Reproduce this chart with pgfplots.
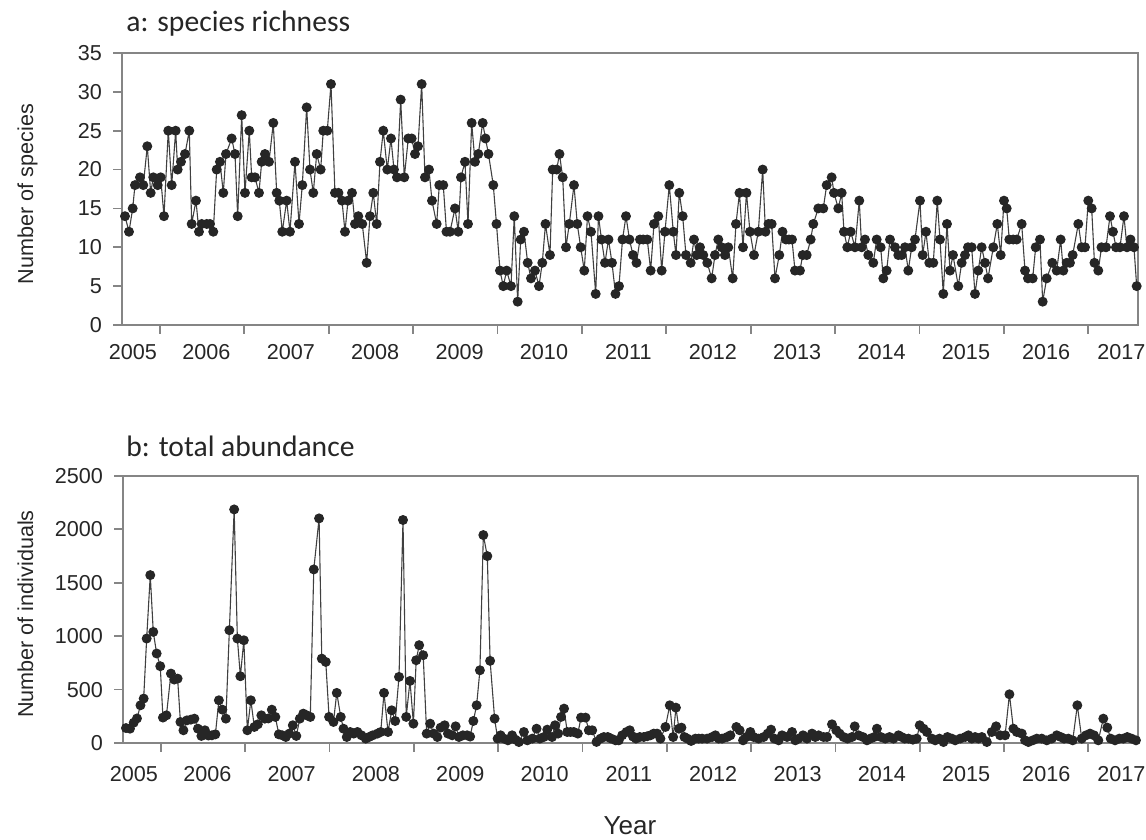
\documentclass[border=0pt]{standalone}
\usepackage{pgfplots}
\pgfplotsset{compat=1.18}
\usepackage{pgfplotstable}
\usepackage{fontspec}
\setmainfont{Liberation Sans}
\newfontfamily\carlito{Carlito}

\definecolor{frame}{HTML}{858585}
\definecolor{dot}{HTML}{262626}
\definecolor{ln}{HTML}{404040}
\definecolor{txt}{HTML}{262626}

% px = horizontal position, v = value
\pgfplotstableread{
px v
125 14
129 12
132.7 15
135 18
140 19
143.3 18
147.3 23
150.7 17
153.3 19
157.7 18
160.7 19
164 14
168.3 25
171.7 18
175.7 25
177.7 20
181 21
185 22
189.3 25
191.7 13
196 16
199 12
201.7 13
206.7 13
210 13
213.3 12
216.7 20
220 21
223.3 17
226 22
231.7 24
235 22
237.7 14
241.7 27
245 17
249.3 25
251.7 19
255 19
259 17
261.7 21
265 22
269 21
273.3 26
276.7 17
279.3 16
282.3 12
286.7 16
290 12
295 21
299 13
302.3 18
306.7 28
310 20
313.3 17
316.7 22
320.7 20
323.3 25
327.3 25
331 31
335 17
338.5 17
342 16
345 12
348 16
352 17
355 13
358.3 14
362.3 13
366.7 8
370 14
373.3 17
376.7 13
380 21
383.3 25
387.3 20
391 24
394 20
397 19
400.7 29
404.3 19
408.3 24
411.7 24
415 22
418 23
421.7 31
425 19
429 20
432 16
436.7 13
439.3 18
443.3 18
446.5 12
450 12
455 15
458.3 12
461 19
465 21
468 13
471.7 26
475 21
478.3 22
482.7 26
485.5 24
488.5 22
493.3 18
496.5 13
500 7
503.3 5
506.7 7
511 5
514.3 14
517.7 3
520.7 11
524 12
527.7 8
531 6
535 7
539 5
542.3 8
545.5 13
550 9
552.7 20
556.7 20
559.5 22
562.7 19
566 10
569.3 13
574 18
577.3 13
580.7 10
584.3 7
587.5 14
591 12
595.7 4
598.5 14
601.5 11
605 8
608.5 11
612 8
615.5 4
619 5
622.5 11
626 14
629.5 11
633 9
636.5 8
640 11
643.3 11
647.3 11
650.7 7
654 13
658.3 14
661.7 7
665 12
669.3 18
673.3 12
676 9
679.3 17
682.7 14
686 9
690.7 8
694 11
696.7 9
700 10
703.3 9
707.3 8
711.7 6
715 9
718.3 11
721.7 10
725 9
728.3 10
732.7 6
736 13
739.5 17
743 10
746.5 17
750 12
754 9
758.3 12
762.7 20
765.5 12
768.5 13
771.7 13
775 6
779.3 9
782.5 12
786 11
789 11
792 11
795 7
800 7
802.7 9
806.7 9
810.7 11
813.3 13
818.3 15
823.3 15
826.7 18
831.7 19
834 17
838.3 15
841.7 17
844 12
847.3 10
850.7 12
855 10
859.3 16
861.7 10
865 11
868.3 9
873.3 8
876.7 11
880.7 10
883.3 6
886.7 7
890 11
895 10
898.3 9
901.7 9
905 10
908.3 7
911.7 10
915 11
920 16
922.7 9
926 12
929.3 8
933.3 8
937.3 16
940 11
943.3 4
947 13
950 7
953 9
958.3 5
961.7 8
965 9
968 10
971.7 10
975 4
978.3 7
981.7 10
985 8
988 6
993.3 10
997.3 13
1000.7 9
1004 16
1006.7 15
1009.3 11
1013.3 11
1016.7 11
1021.7 13
1025 7
1028 6
1032.7 6
1035.7 10
1040 11
1042.7 3
1046.7 6
1052.3 8
1056.7 7
1060.7 11
1063.3 7
1066.7 8
1070 8
1072.7 9
1078.3 13
1081.7 10
1085 10
1088.3 16
1091.7 15
1094.5 8
1098.3 7
1101.5 10
1106 10
1110 14
1113 12
1116 10
1120 10
1124 14
1127 10
1130.5 11
1134 10
1136.7 5
}\richness

\pgfplotstableread{
px v
125 140
129 134
132.7 190
136 230
139.5 353
142.7 416
145.7 978
149.3 1572
152.3 1040
155.7 838
159.3 719
162 238
165.5 259
170 650
173.3 594
176.7 603
179.5 197
182.5 119
186 212
190 219
193.5 228
197 134
200.5 66
204 119
207.5 70
211 72
214.5 81
218 400
221.5 312
225 228
228.5 1056
233.3 2187
236.5 978
239.5 625
243 962
246.5 119
250 400
253.5 150
257 175
260.5 259
264 228
267.5 230
271 312
274.5 244
278 81
281.5 72
285 56
288.5 88
292 166
295.5 66
299 228
302.5 275
306 259
309.5 244
313 1625
318.3 2103
321 790
325 759
328.3 244
332.7 197
336 469
340 244
342.7 134
346 56
349.5 103
353 88
356.7 103
360.7 72
365 41
368.3 56
372 72
376.7 88
380 103
383.3 469
387.3 103
391 306
394.5 206
398.3 619
402.3 2088
405.5 244
409.3 581
412.7 181
415.5 775
418.5 916
422.5 822
426 88
429.5 181
433 88
436.7 56
440 144
444 166
447.3 88
451.5 72
455 156
458.3 56
462.3 72
466.5 72
469.5 60
472.7 206
476 353
479.3 681
482.7 1947
486.7 1750
489.5 769
494 228
497 41
500 72
503.3 41
507.3 25
511.5 72
515 31
518.3 9
523.3 103
526.7 25
531.7 41
536 134
539.3 41
543.3 56
546.7 125
551.5 56
554.5 166
557.5 88
560.5 244
563.5 322
566.7 103
570 103
573.3 103
577.3 88
580.5 238
585 238
588.3 119
591.7 119
596 10
600 41
603.3 56
607.3 56
610.7 41
615 25
618.3 25
621.7 72
626 103
629.3 119
632.5 60
635.5 41
639.3 56
643.3 56
646.7 63
650 72
653.3 88
656.7 88
660 41
665 150
669.3 353
672.7 56
675.5 331
678.5 134
681 144
684 56
687 41
690.7 19
695 41
698.3 41
701.7 41
706.7 41
711.7 56
715 72
718.3 41
721.7 41
726.7 56
730 72
736 150
739.3 119
742.7 25
746 56
750 103
753.3 56
758.3 41
763.3 56
767.3 88
770.7 125
774 41
778.3 25
781.7 72
786.7 56
791.7 103
795 25
798.3 41
802.7 72
806.7 41
811.7 88
815 56
818.3 72
823.3 56
826.7 56
831.7 175
836 119
839.3 88
843.3 56
847.3 41
851.7 56
854.5 156
858.3 72
862.7 56
866.7 25
870 41
874 56
876.7 134
880.7 56
885 41
889.3 56
893.3 41
898.3 72
901.5 56
904.5 41
908.3 41
912.7 31
916.5 41
919.5 166
923.3 134
926.7 103
931.7 41
935 25
939.3 41
943.3 9
947.3 56
951.7 41
955 25
960 41
965 56
968.3 72
971.7 41
975 56
978.3 41
981.7 56
986.7 9
991.7 103
996 156
1000 72
1005 72
1009.3 456
1013.3 134
1016.7 103
1021.7 88
1025 25
1028.3 9
1032.7 25
1036.7 41
1041.7 41
1046.7 25
1051.7 41
1056.7 72
1060.7 56
1064 41
1068.3 41
1072.7 25
1077.3 353
1081.7 41
1086 72
1090 88
1094 72
1098.3 25
1103.3 228
1107.3 144
1110.7 41
1115 25
1119.3 41
1123.3 41
1127.3 56
1131.7 41
1136 25
}\abundance

\pgfplotsset{
  panel/.style={
    scale only axis, clip=false, anchor=south west,
    xmin=2005.55, xmax=2017.588,
    axis line style={frame, line width=0.9pt},
    every tick/.style={frame, line width=0.9pt},
    tick align=outside, major tick length=4.5pt,
    xtick pos=bottom, ytick pos=left,
    xtick={2006,...,2017}, xticklabels={},
    extra x ticks={2005.68,2006.55,2007.55,2008.55,2009.55,2010.55,2011.55,2012.55,2013.55,2014.55,2015.55,2016.5,2017.39},
    extra x tick labels={2005,2006,2007,2008,2009,2010,2011,2012,2013,2014,2015,2016,2017},
    extra x tick style={major tick length=0pt, xticklabel style={yshift=-6pt}},
    ticklabel style={font=\fontsize{10.8}{12}\selectfont, text=txt},
    yticklabel style={xshift=-2pt},
    /pgf/number format/assume math mode=true,
    /pgf/number format/1000 sep={},
  },
  series/.style={color=ln, line width=0.55pt, mark=*, mark size=2.2pt,
    mark options={fill=dot, draw=dot}},
}

\begin{document}
\begin{tikzpicture}
\path[use as bounding box] (0,0) rectangle (573pt,420pt);

\begin{axis}[panel, at={(61pt,257.5pt)}, width=508pt, height=136pt,
  ymin=0, ymax=35, ytick={0,5,...,35}]
\addplot[series] table[x expr={2006+(\thisrow{px}-160)/84.4}, y=v] {\richness};
\end{axis}

% yshift below is added to the one in the shared style
\begin{axis}[panel, at={(61.5pt,48.5pt)}, width=507.5pt, height=133.5pt,
  ymin=0, ymax=2500, ytick={0,500,...,2500},
  extra x tick style={xticklabel style={yshift=-2pt}}]
\addplot[series] table[x expr={2006+(\thisrow{px}-160)/84.4}, y=v] {\abundance};
\end{axis}

\node[anchor=base west, inner sep=0pt, font=\carlito\fontsize{14.8}{16}\selectfont, text=txt] at (63pt,404pt) {a: species richness};
\node[anchor=base west, inner sep=0pt, font=\carlito\fontsize{14.8}{16}\selectfont, text=txt] at (63pt,191.5pt) {b: total abundance};
\node[rotate=90, anchor=base, font=\fontsize{10.8}{12}\selectfont, text=txt] at (16.5pt,323pt) {Number of species};
\node[rotate=90, anchor=base, font=\fontsize{10.8}{12}\selectfont, text=txt] at (16.5pt,113pt) {Number of individuals};
\node[anchor=base, font=\fontsize{13}{15}\selectfont, text=txt] at (315pt,2.5pt) {Year};
\end{tikzpicture}
\end{document}
